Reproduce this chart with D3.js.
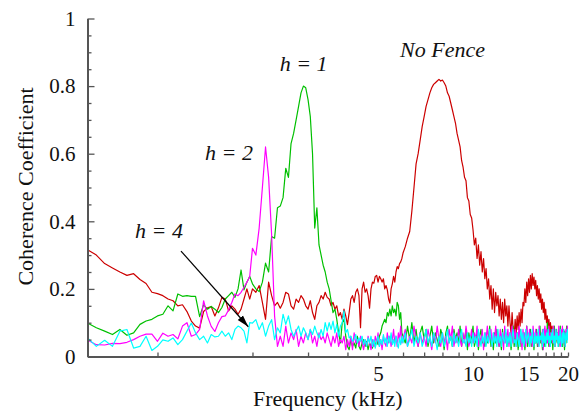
<!DOCTYPE html>
<html>
<head>
<meta charset="utf-8">
<script src="https://cdn.jsdelivr.net/npm/d3@7"></script>
<style>
	body { margin: 0; background: #fff; }
	.axis path, .axis line { stroke: #555; }
	.axis path { stroke-width: 2; }
	.axis line { stroke-width: 1.3; }
</style>
</head>
<body>
<div id="chart"></div>
<script>
// Define margins
const MARGIN = {top: 18.5, right: 11, bottom: 57.5, left: 87.5};
const OUTER_WIDTH = 579;
const OUTER_HEIGHT = 414;
const FONT = '"Liberation Serif"';

const X_AXIS_LABEL = 'Frequency (kHz)';
const Y_AXIS_LABEL = 'Coherence Coefficient';

// Frequency bands (kHz): each band starts at a frequency and has a fixed bin step
const BAND_STARTS = [0.6, 2.0, 6.0];
const BAND_STEPS = [0.04, 0.05, 0.1];

// Axis ticks
const X_TICKS = [1, 2, 3, 4, 5, 6, 7, 8, 9, 10, 11, 12, 13, 14, 15, 16, 17, 18, 19, 20];
const X_LABELS = [5, 10, 15, 20];
const Y_TICKS = [0, 0.2, 0.4, 0.6, 0.8, 1];
const Y_MINOR_TICKS = [0.05, 0.1, 0.15, 0.25, 0.3, 0.35, 0.45, 0.5, 0.55, 0.65, 0.7, 0.75, 0.85, 0.9, 0.95];

// Series names and colours
const SERIES_NAMES = ['No Fence', 'h = 1', 'h = 2', 'h = 4'];
const SERIES_COLORS = ['#cc0000', '#00c000', '#ff00ff', '#00ffff'];

// No fence
const noFenceLow = [0.316, 0.30, 0.275, 0.262, 0.25, 0.24, 0.245, 0.228, 0.216, 0.19,
	0.186, 0.18, 0.17, 0.165, 0.15, 0.153, 0.133, 0.105, 0.09, 0.084,
	0.133, 0.144, 0.148, 0.12, 0.144, 0.175, 0.17, 0.135, 0.15, 0.14,
	0.125, 0.14, 0.17, 0.2, 0.17];
const noFenceMid = [0.2, 0.19, 0.21, 0.16, 0.11, 0.22, 0.18, 0.15, 0.16, 0.143,
	0.16, 0.19, 0.185, 0.15, 0.14, 0.17, 0.16, 0.18, 0.17, 0.15,
	0.14, 0.165, 0.13, 0.11, 0.15, 0.16, 0.18, 0.17, 0.19, 0.175,
	0.17, 0.15, 0.16, 0.14, 0.15, 0.12, 0.13, 0.11, 0.14, 0.12,
	0.094, 0.13, 0.17, 0.18, 0.16, 0.19, 0.2, 0.18, 0.085, 0.2,
	0.22, 0.19, 0.2, 0.18, 0.143, 0.2, 0.22, 0.217, 0.237, 0.24,
	0.22, 0.237, 0.23, 0.22, 0.23, 0.2, 0.21, 0.197, 0.17, 0.158,
	0.2, 0.215, 0.237, 0.22, 0.25, 0.266, 0.26, 0.275, 0.28, 0.29];
const noFenceHigh = [0.306, 0.325, 0.35, 0.37, 0.43, 0.50, 0.57, 0.6, 0.64, 0.68,
	0.71, 0.74, 0.76, 0.78, 0.795, 0.805, 0.81, 0.815, 0.82, 0.815,
	0.818, 0.81, 0.80, 0.78, 0.77, 0.75, 0.73, 0.71, 0.69, 0.66,
	0.64, 0.62, 0.58, 0.56, 0.53, 0.52, 0.47, 0.46, 0.42, 0.41,
	0.375, 0.33, 0.35, 0.29, 0.33, 0.27, 0.31, 0.25, 0.29, 0.23,
	0.26, 0.2, 0.23, 0.17, 0.21, 0.14, 0.2, 0.13, 0.19, 0.15,
	0.18, 0.12, 0.17, 0.11, 0.16, 0.1, 0.17, 0.12, 0.15, 0.09,
	0.15, 0.1, 0.07, 0.13, 0.08, 0.06, 0.11, 0.07, 0.12, 0.08,
	0.13, 0.09, 0.14, 0.1, 0.16, 0.15, 0.2, 0.16, 0.22, 0.18,
	0.23, 0.19, 0.24, 0.2, 0.245, 0.21, 0.235, 0.2, 0.225, 0.18,
	0.21, 0.17, 0.2, 0.16, 0.185, 0.14, 0.17, 0.13, 0.16, 0.11,
	0.14, 0.1, 0.12, 0.08, 0.11, 0.07, 0.1, 0.06, 0.09, 0.055,
	0.08, 0.06, 0.07, 0.05, 0.065, 0.07, 0.05, 0.06, 0.075, 0.055,
	0.06, 0.07, 0.05, 0.065, 0.06, 0.075, 0.055, 0.07, 0.06, 0.08,
	0.07];

// h = 1
const h1Low = [0.099, 0.085, 0.075, 0.065, 0.08, 0.063, 0.07, 0.095, 0.105, 0.11,
	0.12, 0.125, 0.15, 0.135, 0.185, 0.178, 0.18, 0.178, 0.178, 0.118,
	0.153, 0.14, 0.148, 0.14, 0.13, 0.145, 0.17, 0.18, 0.19, 0.175,
	0.2, 0.256, 0.197, 0.22, 0.237];
const h1Mid = [0.215, 0.2, 0.192, 0.22, 0.276, 0.25, 0.355, 0.35, 0.44, 0.445,
	0.47, 0.557, 0.53, 0.63, 0.66, 0.70, 0.74, 0.78, 0.80, 0.795,
	0.76, 0.71, 0.6, 0.38, 0.44, 0.33, 0.3, 0.27, 0.25, 0.22,
	0.2, 0.165, 0.13, 0.14, 0.11, 0.07, 0.04, 0.1, 0.11, 0.06,
	0.03, 0.02, 0.05, 0.03, 0.04, 0.025, 0.06, 0.03, 0.02, 0.04,
	0.05, 0.03, 0.045, 0.02, 0.04, 0.03, 0.025, 0.045, 0.03, 0.05,
	0.035, 0.06, 0.07, 0.09, 0.1, 0.11, 0.1, 0.13, 0.12, 0.14,
	0.12, 0.15, 0.13, 0.14, 0.12, 0.16, 0.15, 0.11, 0.13, 0.07];
const h1High = [0.06, 0.04, 0.09, 0.05, 0.1, 0.04, 0.08, 0.03, 0.07, 0.09,
	0.05, 0.08, 0.03, 0.06, 0.09, 0.04, 0.07, 0.05, 0.03, 0.08,
	0.06, 0.02, 0.07, 0.09, 0.04, 0.06, 0.03, 0.08, 0.05, 0.07,
	0.04, 0.09, 0.03, 0.06, 0.05, 0.08, 0.02, 0.07, 0.04, 0.06,
	0.09, 0.03, 0.05, 0.07, 0.02, 0.06, 0.08, 0.04, 0.05, 0.03,
	0.07, 0.04, 0.06, 0.09, 0.03, 0.05, 0.02, 0.07, 0.04, 0.08,
	0.05, 0.03, 0.06, 0.02, 0.08, 0.04, 0.05, 0.07, 0.03, 0.06,
	0.04, 0.07, 0.02, 0.05, 0.09, 0.03, 0.06, 0.04, 0.07, 0.02,
	0.05, 0.08, 0.03, 0.06, 0.04, 0.07, 0.02, 0.05, 0.09, 0.03,
	0.06, 0.04, 0.08, 0.03, 0.05, 0.07, 0.02, 0.06, 0.04, 0.08,
	0.03, 0.07, 0.05, 0.09, 0.04, 0.06, 0.02, 0.08, 0.05, 0.03,
	0.07, 0.04, 0.1, 0.05, 0.03, 0.06, 0.08, 0.04, 0.07, 0.02,
	0.06, 0.09, 0.03, 0.05, 0.08, 0.04, 0.07, 0.03, 0.06, 0.09,
	0.04, 0.07, 0.03, 0.08, 0.05, 0.02, 0.07, 0.04, 0.09, 0.06,
	0.05];

// h = 2
const h2Low = [0.049, 0.035, 0.034, 0.039, 0.038, 0.042, 0.05, 0.06, 0.066, 0.066,
	0.045, 0.069, 0.06, 0.065, 0.052, 0.09, 0.1, 0.06, 0.065, 0.08,
	0.165, 0.12, 0.089, 0.074, 0.1, 0.118, 0.12, 0.138, 0.16, 0.185,
	0.18, 0.19, 0.205, 0.22, 0.237];
const h2Mid = [0.32, 0.3, 0.38, 0.5, 0.62, 0.53, 0.36, 0.12, 0.03, 0.06,
	0.03, 0.09, 0.04, 0.07, 0.05, 0.08, 0.03, 0.06, 0.04, 0.07,
	0.05, 0.08, 0.04, 0.06, 0.03, 0.07, 0.05, 0.06, 0.04, 0.07,
	0.05, 0.03, 0.06, 0.04, 0.07, 0.03, 0.05, 0.04, 0.06, 0.02,
	0.05, 0.03, 0.06, 0.02, 0.07, 0.04, 0.05, 0.03, 0.06, 0.04,
	0.02, 0.05, 0.03, 0.06, 0.04, 0.02, 0.05, 0.03, 0.06, 0.04,
	0.07, 0.03, 0.05, 0.02, 0.06, 0.04, 0.03, 0.07, 0.04, 0.06,
	0.03, 0.05, 0.08, 0.04, 0.06, 0.03, 0.07, 0.05, 0.09, 0.04];
const h2High = [0.05, 0.08, 0.03, 0.06, 0.04, 0.09, 0.05, 0.03, 0.07, 0.04,
	0.06, 0.03, 0.08, 0.05, 0.02, 0.07, 0.04, 0.09, 0.05, 0.03,
	0.07, 0.04, 0.06, 0.02, 0.08, 0.05, 0.09, 0.03, 0.06, 0.04,
	0.08, 0.05, 0.03, 0.07, 0.04, 0.09, 0.06, 0.03, 0.05, 0.08,
	0.04, 0.07, 0.05, 0.09, 0.03, 0.06, 0.04, 0.08, 0.02, 0.07,
	0.05, 0.09, 0.04, 0.06, 0.08, 0.03, 0.07, 0.05, 0.09, 0.04,
	0.06, 0.03, 0.08, 0.05, 0.07, 0.02, 0.09, 0.04, 0.06, 0.08,
	0.03, 0.07, 0.05, 0.09, 0.04, 0.06, 0.08, 0.03, 0.07, 0.05,
	0.09, 0.04, 0.06, 0.02, 0.08, 0.05, 0.07, 0.03, 0.09, 0.06,
	0.04, 0.08, 0.05, 0.07, 0.03, 0.09, 0.06, 0.04, 0.08, 0.05,
	0.07, 0.03, 0.09, 0.05, 0.06, 0.04, 0.08, 0.02, 0.07, 0.09,
	0.05, 0.08, 0.04, 0.06, 0.09, 0.03, 0.07, 0.05, 0.08, 0.04,
	0.09, 0.06, 0.03, 0.08, 0.05, 0.07, 0.04, 0.09, 0.06, 0.03,
	0.08, 0.05, 0.09, 0.04, 0.07, 0.06, 0.03, 0.08, 0.05, 0.09,
	0.06];

// h = 4
const h4Low = [0.055, 0.03, 0.048, 0.03, 0.075, 0.08, 0.025, 0.03, 0.06, 0.018,
	0.03, 0.049, 0.045, 0.055, 0.035, 0.05, 0.075, 0.099, 0.07, 0.05,
	0.06, 0.04, 0.065, 0.058, 0.06, 0.075, 0.06, 0.07, 0.05, 0.08,
	0.09, 0.085, 0.075, 0.04, 0.1];
const h4Mid = [0.099, 0.109, 0.08, 0.1, 0.06, 0.09, 0.109, 0.05, 0.085, 0.07,
	0.125, 0.095, 0.12, 0.08, 0.06, 0.075, 0.09, 0.06, 0.085, 0.07,
	0.05, 0.08, 0.065, 0.09, 0.07, 0.055, 0.08, 0.06, 0.1, 0.075,
	0.1, 0.08, 0.105, 0.07, 0.095, 0.06, 0.09, 0.1, 0.135, 0.07,
	0.08, 0.055, 0.06, 0.045, 0.05, 0.065, 0.04, 0.055, 0.045, 0.06,
	0.035, 0.05, 0.03, 0.055, 0.04, 0.06, 0.03, 0.05, 0.025, 0.045,
	0.06, 0.03, 0.05, 0.035, 0.065, 0.04, 0.055, 0.03, 0.06, 0.04,
	0.07, 0.035, 0.05, 0.03, 0.06, 0.04, 0.025, 0.055, 0.035, 0.06];
const h4High = [0.04, 0.07, 0.03, 0.05, 0.08, 0.03, 0.06, 0.04, 0.07, 0.03,
	0.05, 0.08, 0.04, 0.06, 0.03, 0.07, 0.05, 0.02, 0.06, 0.04,
	0.07, 0.03, 0.05, 0.08, 0.04, 0.06, 0.03, 0.07, 0.04, 0.06,
	0.03, 0.06, 0.08, 0.04, 0.05, 0.03, 0.07, 0.04, 0.06, 0.03,
	0.07, 0.04, 0.06, 0.03, 0.08, 0.05, 0.03, 0.06, 0.04, 0.07,
	0.03, 0.06, 0.04, 0.08, 0.05, 0.03, 0.07, 0.04, 0.06, 0.03,
	0.08, 0.04, 0.06, 0.03, 0.07, 0.05, 0.04, 0.08, 0.03, 0.06,
	0.04, 0.07, 0.03, 0.06, 0.08, 0.04, 0.05, 0.03, 0.07, 0.05,
	0.03, 0.06, 0.08, 0.04, 0.07, 0.03, 0.05, 0.08, 0.04, 0.06,
	0.07, 0.03, 0.06, 0.04, 0.08, 0.05, 0.03, 0.07, 0.04, 0.06,
	0.04, 0.08, 0.03, 0.06, 0.05, 0.07, 0.03, 0.08, 0.04, 0.06,
	0.03, 0.07, 0.05, 0.08, 0.04, 0.06, 0.03, 0.07, 0.05, 0.08,
	0.04, 0.06, 0.03, 0.08, 0.05, 0.07, 0.03, 0.06, 0.04, 0.08,
	0.05, 0.03, 0.07, 0.04, 0.08, 0.06, 0.03, 0.07, 0.05, 0.08,
	0.04];

// Annotations, placed in data coordinates (kHz, coefficient)
const NOTE_TEXTS = ['No Fence', 'h = 1', 'h = 2', 'h = 4'];
const NOTE_FREQS = [5.87, 2.44, 1.415, 0.849];
const NOTE_VALUES = [0.886, 0.845, 0.581, 0.351];
const ARROW_FREQS = [1.187, 1.94];
const ARROW_VALUES = [0.312, 0.088];

class CoherenceChart {
	constructor(id) {
		this.id = id;
		this.width = OUTER_WIDTH - MARGIN.left - MARGIN.right;
		this.height = OUTER_HEIGHT - MARGIN.top - MARGIN.bottom;

		// Build series from the band arrays
		let bands = [
			[noFenceLow, noFenceMid, noFenceHigh],
			[h1Low, h1Mid, h1High],
			[h2Low, h2Mid, h2High],
			[h4Low, h4Mid, h4High]
		];
		this.series = bands.map((b, k) => ({
			name: SERIES_NAMES[k],
			color: SERIES_COLORS[k],
			points: b.flatMap((values, j) => values.map((v, i) => ({
				f: +(BAND_STARTS[j] + i * BAND_STEPS[j]).toFixed(3),
				v: v
			})))
		}));

		this.initSizable();
		this.renderLines();
		this.renderAxis();
		this.renderNotes();

		// Serif font on every text element
		this.root.selectAll('text')
				.style('font-family', FONT)
				.style('fill', '#111');
	}

	initSizable() {
		// Define container
		this.root = d3.select(`#${this.id}`).append('svg')
						.attr('width', OUTER_WIDTH)
						.attr('height', OUTER_HEIGHT);

		this.svg = this.root.append('g')
						.attr('transform', `translate(${MARGIN.left}, ${MARGIN.top})`);

		// xScale for frequency (log)
		this.xScale = d3.scaleLog()
						.domain([0.6, 20])
						.range([0, this.width]);

		// yScale for coherence
		this.yScale = d3.scaleLinear()
						.domain([0, 1])
						.range([this.height, 0]);

		this.svg.append('clipPath')
				.attr('id', 'plot-clip')
				.append('rect')
				.attr('width', this.width)
				.attr('height', this.height);
	}

	renderLines() {
		let line = d3.line()
					.x(d => this.xScale(d.f))
					.y(d => this.yScale(d.v));

		this.svg.append('g')
				.attr('clip-path', 'url(#plot-clip)')
				.selectAll('path')
				.data(this.series)
				.enter()
				.append('path')
				.attr('d', d => line(d.points))
				.attr('fill', 'none')
				.attr('stroke', d => d.color)
				.attr('stroke-width', 1.2)
				.attr('stroke-linejoin', 'round');
	}

	renderAxis() {
		// x axis, ticks pointing inward
		let xAxis = d3.axisBottom(this.xScale)
						.tickValues(X_TICKS)
						.tickSizeInner(-4)
						.tickSizeOuter(0)
						.tickPadding(10)
						.tickFormat(d => X_LABELS.includes(d) ? d : '');

		this.svg.append('g')
				.attr('class', 'x axis')
				.attr('transform', `translate(0, ${this.height})`)
				.call(xAxis)
				.attr('font-size', 21);

		// y axis with minor ticks
		let yMinor = d3.axisLeft(this.yScale)
						.tickValues(Y_MINOR_TICKS)
						.tickSizeInner(-4)
						.tickSizeOuter(0)
						.tickFormat('');

		this.svg.append('g')
				.attr('class', 'y axis minor')
				.call(yMinor)
				.select('.domain').remove();

		let yAxis = d3.axisLeft(this.yScale)
						.tickValues(Y_TICKS)
						.tickSizeInner(-7)
						.tickSizeOuter(0)
						.tickPadding(12)
						.tickFormat(d3.format('~g'));

		this.svg.append('g')
				.attr('class', 'y axis')
				.call(yAxis)
				.attr('font-size', 21);

		// Label axis
		this.svg.append('text')
				.attr('text-anchor', 'middle')
				.attr('font-size', 22)
				.attr('x', this.width / 2)
				.attr('y', this.height + 49)
				.text(X_AXIS_LABEL);

		this.svg.append('text')
				.attr('text-anchor', 'middle')
				.attr('font-size', 22)
				.attr('transform', `translate(${33 - MARGIN.left}, ${this.height / 2 - 1})rotate(-90)`)
				.text(Y_AXIS_LABEL);
	}

	renderNotes() {
		this.svg.selectAll('.note')
				.data(NOTE_TEXTS)
				.enter()
				.append('text')
				.attr('class', 'note')
				.attr('font-size', 22)
				.attr('font-style', 'italic')
				.attr('x', (d, i) => this.xScale(NOTE_FREQS[i]))
				.attr('y', (d, i) => this.yScale(NOTE_VALUES[i]))
				.text(d => d);

		// Arrow pointing at the h = 4 curve
		this.root.append('defs')
				.append('marker')
				.attr('id', 'arrow-head')
				.attr('markerUnits', 'userSpaceOnUse')
				.attr('viewBox', '0 -4 12 8')
				.attr('refX', 12)
				.attr('refY', 0)
				.attr('markerWidth', 12)
				.attr('markerHeight', 8)
				.attr('orient', 'auto')
				.append('path')
				.attr('d', 'M0,-3.5L12,0L0,3.5Z')
				.attr('fill', '#000');

		this.svg.append('line')
				.attr('x1', this.xScale(ARROW_FREQS[0]))
				.attr('y1', this.yScale(ARROW_VALUES[0]))
				.attr('x2', this.xScale(ARROW_FREQS[1]))
				.attr('y2', this.yScale(ARROW_VALUES[1]))
				.attr('stroke', '#000')
				.attr('stroke-width', 1.2)
				.attr('marker-end', 'url(#arrow-head)');
	}
}

new CoherenceChart('chart');
</script>
</body>
</html>
